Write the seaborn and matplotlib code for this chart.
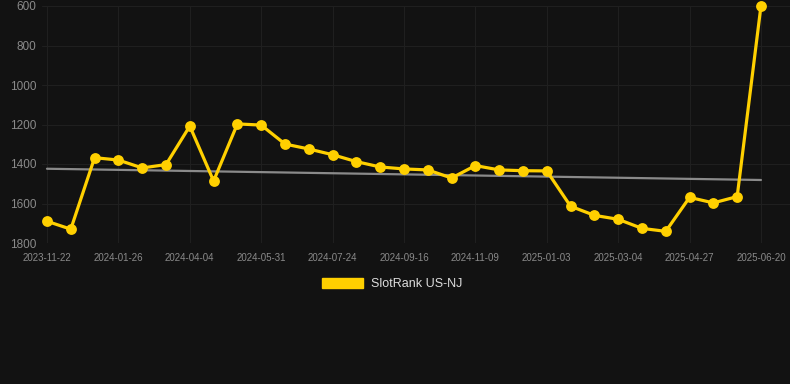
import numpy as np
import pandas as pd
import matplotlib
matplotlib.use("Agg")
import matplotlib.pyplot as plt
import seaborn as sns
from matplotlib.patches import Patch

# ---- data ----
tick_labels = ["2023-11-22", "2024-01-26", "2024-04-04", "2024-05-31", "2024-07-24",
               "2024-09-16", "2024-11-09", "2025-01-03", "2025-03-04", "2025-04-27",
               "2025-06-20"]
rank_values = [1690, 1730, 1368, 1380, 1420, 1403, 1208, 1486, 1197, 1203,
               1299, 1324, 1353, 1388, 1415, 1425, 1430, 1471, 1408, 1430,
               1434, 1435, 1614, 1660, 1680, 1726, 1741, 1569, 1597, 1565,
               600]
trend_values = [1424, 1481]  # trend line start / end
series_name = "SlotRank US-NJ"
y_ticks = [600, 800, 1000, 1200, 1400, 1600, 1800]

idx = np.arange(len(rank_values))
df = pd.DataFrame({"idx": idx, "rank": rank_values})
trend_x = [idx[0], idx[-1]]

BG = "#121212"
GOLD = "#FFD000"
sns.set_theme(style="dark")
plt.rcParams["font.family"] = ["Liberation Sans", "DejaVu Sans"]

fig = plt.figure(figsize=(7.9, 3.84), dpi=100, facecolor=BG)
ax = fig.add_axes([42 / 790, 141 / 384, 748 / 790, 237 / 384])
ax.set_facecolor(BG)

ax.plot(trend_x, trend_values, color="#8a8a8a", lw=1.6, zorder=2)
sns.lineplot(data=df, x="idx", y="rank", ax=ax, color=GOLD, lw=2.3,
             marker="o", markersize=7.8, markeredgewidth=0, zorder=3,
             clip_on=False, legend=False)

ax.set_xlim(-0.21, 31.22)
ax.set_ylim(1800, 600)
ax.set_xticks(idx[::3])
ax.set_xticklabels(tick_labels)
ax.set_yticks(y_ticks)
ax.set_xlabel("")
ax.set_ylabel("")
ax.grid(True, color="#1f1f1f", lw=0.8)
ax.tick_params(axis="both", length=0)
ax.tick_params(axis="x", labelsize=7, colors="#8a8a8a", pad=7)
ax.tick_params(axis="y", labelsize=8.5, colors="#8a8a8a", pad=4)
for s in ax.spines.values():
    s.set_visible(False)

handle = Patch(facecolor=GOLD, edgecolor=GOLD, label=series_name)
fig.legend(handles=[handle], loc="center", bbox_to_anchor=(392 / 790, 1 - 284 / 384),
           frameon=False, fontsize=9, labelcolor="#dddddd",
           handlelength=3.3, handleheight=0.8, handletextpad=0.6)

fig.savefig("out.png", dpi=100, facecolor=BG)
